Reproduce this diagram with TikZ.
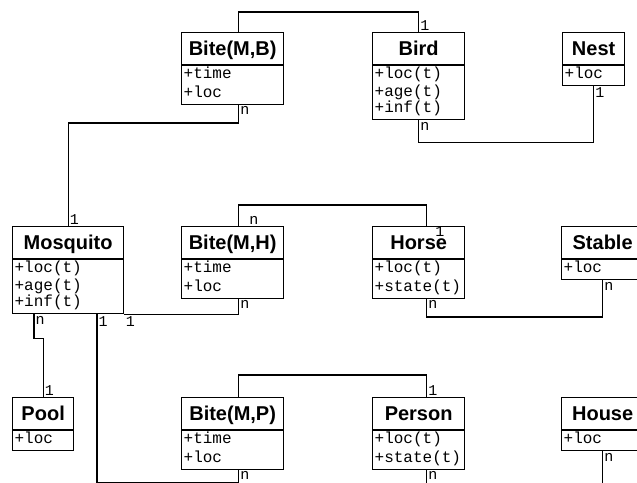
\documentclass[tikz,border=0pt]{standalone}
\usepackage{fontspec}
\usetikzlibrary{shapes.multipart}
\newfontfamily\hfont{Liberation Sans}
\newfontfamily\cfont{Liberation Mono}
\newcommand{\ctitle}[1]{\centering\hfont\bfseries\fontsize{20}{24}\selectfont\rule[-7.5pt]{0pt}{29pt}#1\par}
\newcommand{\cattr}{\raggedright\cfont\fontsize{16}{17.5}\selectfont\strut}

\begin{document}
\begin{tikzpicture}[x=1pt,y=1pt,line width=1.3pt,
		cls/.style={draw,rectangle split,rectangle split parts=2,anchor=north west,inner xsep=2pt,inner ysep=1pt},
		lbl/.style={font=\cfont\fontsize{15}{15}\selectfont,inner sep=1pt}]
		\useasboundingbox (0,0) rectangle (637,-482);

		% row 1
		\node[cls,text width=98pt] (bmb) at (181,-32) {\ctitle{Bite(M,B)}\nodepart{two}\cattr +time\\+loc\strut};
		\node[cls,text width=88pt] (bird) at (372,-32) {\ctitle{Bird}\nodepart{two}\cattr +loc(t)\\+age(t)\\+inf(t)\strut};
		\node[cls,text width=58pt] (nest) at (562,-32) {\ctitle{Nest}\nodepart{two}\cattr +loc\strut};

		% row 2
		\node[cls,text width=107pt] (mosq) at (12,-226) {\ctitle{Mosquito}\nodepart{two}\cattr +loc(t)\\+age(t)\\+inf(t)\strut};
		\node[cls,text width=98pt] (bmh) at (181,-226) {\ctitle{Bite(M,H)}\nodepart{two}\cattr +time\\+loc\strut};
		\node[cls,text width=88pt] (horse) at (372,-226) {\ctitle{Horse}\nodepart{two}\cattr +loc(t)\\+state(t)\strut};
		\node[cls,text width=78pt] (stable) at (561,-226) {\ctitle{Stable}\nodepart{two}\cattr +loc\strut};

		% row 3
		\node[cls,text width=57pt] (pool) at (12,-397) {\ctitle{Pool}\nodepart{two}\cattr +loc\strut};
		\node[cls,text width=98pt] (bmp) at (181,-397) {\ctitle{Bite(M,P)}\nodepart{two}\cattr +time\\+loc\strut};
		\node[cls,text width=88pt] (person) at (372,-397) {\ctitle{Person}\nodepart{two}\cattr +loc(t)\\+state(t)\strut};
		\node[cls,text width=78pt] (house) at (561,-397) {\ctitle{House}\nodepart{two}\cattr +loc\strut};

		% links
		\draw ([xshift=6pt]bmb.north) -- ++(0,20) -| (bird.north) node[lbl,anchor=south west]{1};
		\draw ([xshift=6pt]bmb.south) node[lbl,anchor=north west]{n} -- ++(0,-18) -| (mosq.north) node[lbl,anchor=south west]{1};
		\draw (bird.south) node[lbl,anchor=north west]{n} -- ++(0,-22) -| (nest.south) node[lbl,anchor=north west]{1};

		\draw ([xshift=6pt]bmh.north) node[lbl,anchor=south west,xshift=9pt]{n} -- ++(0,21) -| ([xshift=8pt]horse.north) node[lbl,anchor=north west,xshift=7pt,yshift=1.5pt]{1};
		\draw (mosq.south east) node[lbl,anchor=north west]{1} -| ([xshift=6pt]bmh.south) node[lbl,anchor=north west]{n};
		\draw ([xshift=8pt]horse.south) node[lbl,anchor=north west]{n} -- ++(0,-18) -| (stable.south) node[lbl,anchor=north west]{n};

		\draw ([xshift=22pt]mosq.south west) node[lbl,anchor=north west]{n} -- ++(0,-24) -| (pool.north) node[lbl,anchor=south west]{1};
		\draw ([xshift=85pt]mosq.south west) node[lbl,anchor=north west]{1} -- ++(0,-168) -| ([xshift=6pt]bmp.south) node[lbl,anchor=north west]{n};
		\draw ([xshift=6pt]bmp.north) -- ++(0,22) -| ([xshift=8pt]person.north) node[lbl,anchor=south west]{1};
		\draw ([xshift=8pt]person.south) node[lbl,anchor=north west]{n} -- ++(0,-15) -| (house.south) node[lbl,anchor=north west]{n};
\end{tikzpicture}
\end{document}
